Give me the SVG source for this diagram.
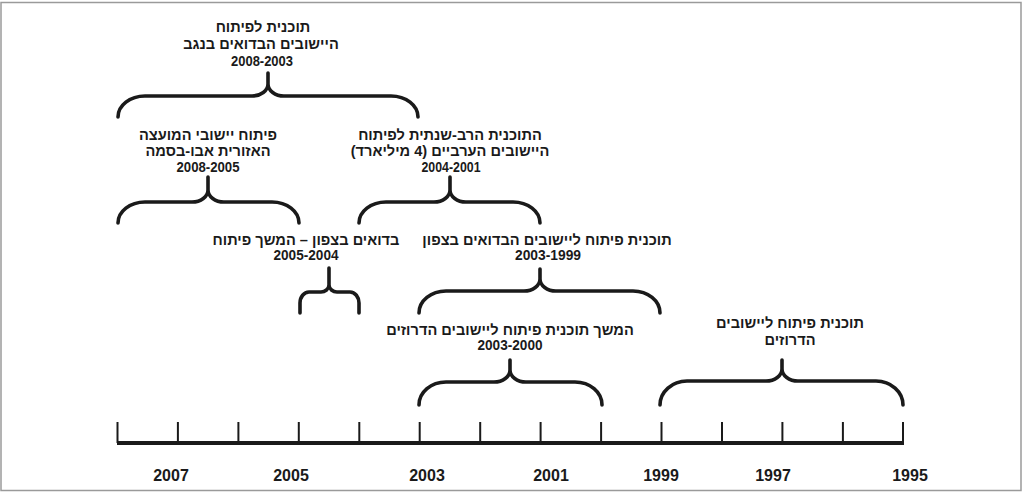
<svg xmlns="http://www.w3.org/2000/svg" width="1025" height="492" viewBox="0 0 1025 492">
<style>
.lbl{font-family:"Liberation Sans","DejaVu Sans",sans-serif;font-weight:bold;font-size:14.6px;fill:#1a1a1a;text-anchor:middle}
.num{font-family:"Liberation Sans","DejaVu Sans",sans-serif;font-weight:bold;font-size:14.5px;fill:#1a1a1a;text-anchor:middle}
.yr{font-family:"Liberation Sans","DejaVu Sans",sans-serif;font-weight:bold;font-size:16px;fill:#1a1a1a;text-anchor:middle}
.brace{fill:none;stroke:#1a1a1a;stroke-width:3.6;stroke-linecap:round;stroke-linejoin:round}
.axis{fill:none;stroke:#1a1a1a;stroke-width:4}
.tick{fill:none;stroke:#1a1a1a;stroke-width:2}
</style>
<rect x="1" y="2.5" width="1020" height="488" fill="#fff" stroke="#9a9a9a" stroke-width="1.5"/>

<g id="connectors">
<path id="brace1" class="brace" d="M118,117 C118,105.4 130.1,96 145,96 L252,96 C260.8,96 268,90.6 268,84 L268,73 M268,84 C268,90.6 275.2,96 284,96 L391,96 C405.9,96 418,105.4 418,117"/>
<path id="brace2" class="brace" d="M118,223 C118,211.4 130.1,202 145,202 L192,202 C200.8,202 208,196.6 208,190 L208,177 M208,190 C208,196.6 215.2,202 224,202 L272,202 C286.9,202 299,211.4 299,223"/>
<path id="brace3" class="brace" d="M359,223 C359,211.4 371.1,202 386,202 L434,202 C442.8,202 450,196.6 450,190 L450,177 M450,190 C450,196.6 457.2,202 466,202 L513,202 C527.9,202 540,211.4 540,223"/>
<path id="brace4" class="brace" d="M300,313 L300,303 C300,297 304,292 309,292 L321,292 C325,292 329,289 329,285 L329,268 M329,285 C329,289 333,292 337,292 L350,292 C355,292 359,297 359,303 L359,313"/>
<path id="brace5" class="brace" d="M419,313 C419,300.9 431.1,291 446,291 L524,291 C532.8,291 540,285.6 540,279 L540,269 M540,279 C540,285.6 547.2,291 556,291 L633,291 C647.9,291 660,300.9 660,313"/>
<path id="brace6" class="brace" d="M419,405 C419,392.3 431.1,382 446,382 L494,382 C502.8,382 510,376.6 510,370 L510,360 M510,370 C510,376.6 517.2,382 526,382 L575,382 C589.9,382 602,392.3 602,405"/>
<path id="brace7" class="brace" d="M660,405 C660,391.8 672.1,381 687,381 L766,381 C774.8,381 782,375.6 782,369 L782,360 M782,369 C782,375.6 789.2,381 798,381 L876,381 C890.9,381 903,391.8 903,405"/>
</g>

<g id="timeline">
<line class="axis" x1="117" y1="443" x2="904" y2="443"/>
<g class="tick">
<line x1="117.5" y1="422" x2="117.5" y2="443"/>
<line x1="177.9" y1="422" x2="177.9" y2="443"/>
<line x1="238.4" y1="422" x2="238.4" y2="443"/>
<line x1="298.8" y1="422" x2="298.8" y2="443"/>
<line x1="359.3" y1="422" x2="359.3" y2="443"/>
<line x1="419.7" y1="422" x2="419.7" y2="443"/>
<line x1="480.2" y1="422" x2="480.2" y2="443"/>
<line x1="540.6" y1="422" x2="540.6" y2="443"/>
<line x1="601.1" y1="422" x2="601.1" y2="443"/>
<line x1="661.5" y1="422" x2="661.5" y2="443"/>
<line x1="722" y1="422" x2="722" y2="443"/>
<line x1="782.4" y1="422" x2="782.4" y2="443"/>
<line x1="842.9" y1="422" x2="842.9" y2="443"/>
<line x1="903" y1="422" x2="903" y2="443"/>
</g>
<text class="yr" x="171" y="481">2007</text>
<text class="yr" x="291" y="481">2005</text>
<text class="yr" x="427" y="481">2003</text>
<text class="yr" x="551" y="481">2001</text>
<text class="yr" x="661" y="481">1999</text>
<text class="yr" x="773" y="481">1997</text>
<text class="yr" x="910" y="481">1995</text>
</g>

<g id="node1">
<text class="lbl" direction="rtl" x="263" y="32">תוכנית לפיתוח</text>
<text class="lbl" direction="rtl" x="261" y="49">היישובים הבדואים בנגב</text>
<text class="num" x="262" y="66" textLength="62" lengthAdjust="spacingAndGlyphs">2008-2003</text>
</g>
<g id="node2">
<text class="lbl" direction="rtl" x="208" y="140">פיתוח יישובי המועצה</text>
<text class="lbl" direction="rtl" x="208" y="156">האזורית אבו-בסמה</text>
<text class="num" x="208" y="172" textLength="63" lengthAdjust="spacingAndGlyphs">2008-2005</text>
</g>
<g id="node3">
<text class="lbl" direction="rtl" x="450" y="140">התוכנית הרב-שנתית לפיתוח</text>
<text class="lbl" direction="rtl" x="450" y="156">היישובים הערביים (4 מיליארד)</text>
<text class="num" x="451" y="172" textLength="59" lengthAdjust="spacingAndGlyphs">2004-2001</text>
</g>
<g id="node4">
<text class="lbl" direction="rtl" x="306" y="245">בדואים בצפון – המשך פיתוח</text>
<text class="num" x="306" y="260" textLength="65" lengthAdjust="spacingAndGlyphs">2005-2004</text>
</g>
<g id="node5">
<text class="lbl" direction="rtl" x="547" y="245">תוכנית פיתוח ליישובים הבדואים בצפון</text>
<text class="num" x="548" y="260" textLength="66" lengthAdjust="spacingAndGlyphs">2003-1999</text>
</g>
<g id="node6">
<text class="lbl" direction="rtl" x="510" y="335">המשך תוכנית פיתוח ליישובים הדרוזים</text>
<text class="num" x="510" y="350" textLength="65" lengthAdjust="spacingAndGlyphs">2003-2000</text>
</g>
<g id="node7">
<text class="lbl" direction="rtl" x="790" y="328">תוכנית פיתוח ליישובים</text>
<text class="lbl" direction="rtl" x="790" y="345">הדרוזים</text>
</g>
</svg>
